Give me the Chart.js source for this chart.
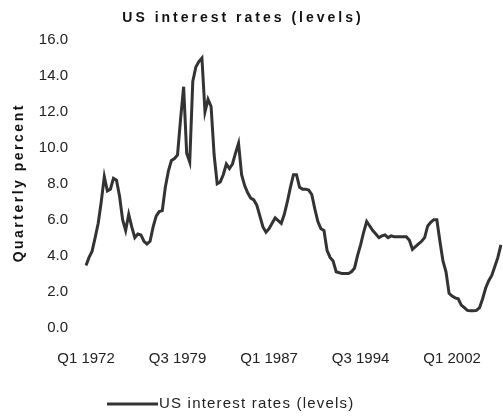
<!DOCTYPE html>
<html><head><meta charset="utf-8">
<script src="https://cdn.jsdelivr.net/npm/chart.js@4"></script>
<style>html,body{margin:0;padding:0;background:#fff;}</style>
</head><body>
<canvas id="c" width="503" height="416"></canvas>
<script>
const chartTitle = 'US interest rates (levels)';
const seriesName = 'US interest rates (levels)';
const yAxisTitle = 'Quarterly percent';
const startYear = 1972;
const yMin = 0, yMax = 16, yStep = 2;
const labelEvery = 30;
// quarterly values, Q1 1972 .. Q1 2006
const rates = [
  3.45, 3.9, 4.25, 5.0,
  5.8, 7.0, 8.4, 7.6,
  7.7, 8.3, 8.2, 7.3,
  6.0, 5.4, 6.3, 5.6,
  5.0, 5.2, 5.15, 4.8,
  4.65, 4.8, 5.6, 6.2,
  6.45, 6.5, 7.8, 8.7,
  9.3, 9.4, 9.6, 11.6,
  13.4, 9.7, 9.2, 13.7,
  14.5, 14.8, 15.0, 12.0,
  12.7, 12.3, 9.6, 8.0,
  8.1, 8.5, 9.1, 8.85,
  9.1, 9.7, 10.25, 8.5,
  7.9, 7.5, 7.2, 7.1,
  6.8, 6.2, 5.6, 5.3,
  5.5, 5.8, 6.1, 5.95,
  5.8, 6.3, 7.0, 7.8,
  8.5, 8.5, 7.8, 7.7,
  7.7, 7.65, 7.4, 6.6,
  5.9, 5.5, 5.4, 4.3,
  3.9, 3.7, 3.1, 3.05,
  3.0, 3.0, 3.0, 3.1,
  3.3, 4.0, 4.6, 5.3,
  5.9, 5.65, 5.4, 5.2,
  5.0, 5.1, 5.15, 5.0,
  5.1, 5.05, 5.05, 5.05,
  5.05, 5.05, 4.85, 4.35,
  4.5, 4.65, 4.8, 5.0,
  5.65, 5.85, 6.0, 6.0,
  4.8, 3.7, 3.1, 1.9,
  1.75, 1.65, 1.6, 1.25,
  1.1, 0.95, 0.93, 0.93,
  0.95, 1.1, 1.6, 2.2,
  2.6, 2.9, 3.4, 3.9,
  4.6
];
const quarters = [];
for (let k = 0; k < rates.length; k++) {
  quarters.push('Q' + (k % 4 + 1) + ' ' + (startYear + Math.floor(k / 4)));
}

const FONT = '"Liberation Sans", Arial, sans-serif';

const decor = {
  id: 'decor',
  afterDraw(chart) {
    const ctx = chart.ctx;
    ctx.save();
    // title
    ctx.fillStyle = '#111';
    ctx.font = 'bold 14px ' + FONT;
    try { ctx.letterSpacing = '3px'; } catch (e) {}
    ctx.textAlign = 'center';
    ctx.textBaseline = 'middle';
    ctx.fillText(chartTitle, 243, 18);
    // y-axis title
    ctx.save();
    try { ctx.letterSpacing = '2.5px'; } catch (e) {}
    ctx.translate(19, (chart.chartArea.top + chart.chartArea.bottom) / 2 - 1);
    ctx.rotate(-Math.PI / 2);
    ctx.fillText(yAxisTitle, 0, 0);
    ctx.restore();
    // legend
    ctx.strokeStyle = '#333';
    ctx.lineWidth = 3;
    ctx.beginPath();
    ctx.moveTo(107, 404);
    ctx.lineTo(158, 404);
    ctx.stroke();
    try { ctx.letterSpacing = '1.2px'; } catch (e) {}
    ctx.fillStyle = '#222';
    ctx.font = '15px ' + FONT;
    ctx.textAlign = 'left';
    ctx.fillText(seriesName, 159, 404);
    ctx.restore();
  }
};

new Chart(document.getElementById('c'), {
  type: 'line',
  data: {
    labels: quarters,
    datasets: [{
      label: seriesName,
      data: rates,
      borderColor: '#333',
      borderWidth: 3,
      pointRadius: 0,
      tension: 0,
      fill: false
    }]
  },
  options: {
    responsive: false,
    animation: false,
    layout: { padding: { top: 40, right: 1, left: 0, bottom: 0 } },
    plugins: { legend: { display: false }, title: { display: false }, tooltip: { enabled: false } },
    scales: {
      x: {
        type: 'category',
        offset: false,
        grid: { display: false, drawTicks: false },
        border: { display: false },
        ticks: {
          autoSkip: false, maxRotation: 0, minRotation: 0, padding: 22,
          color: '#222', font: { family: FONT, size: 15 },
          callback: (v, i) => (i % labelEvery === 0 ? quarters[i] : null)
        },
        afterFit: s => { s.height = 88.5; }
      },
      y: {
        min: yMin, max: yMax,
        grid: { display: false, drawTicks: false },
        border: { display: false },
        ticks: {
          stepSize: yStep, padding: 18,
          color: '#222', font: { family: FONT, size: 15 },
          callback: v => Number(v).toFixed(1)
        },
        afterFit: s => { s.width = 86; }
      }
    }
  },
  plugins: [decor]
});
</script>
</body></html>
